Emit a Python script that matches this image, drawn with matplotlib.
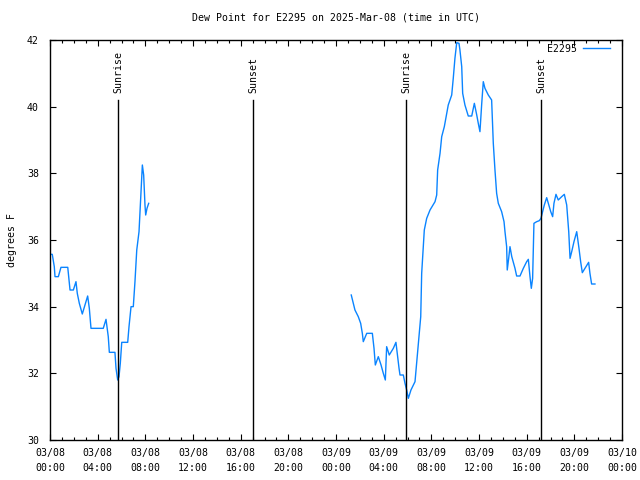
import matplotlib
matplotlib.use('Agg')
import matplotlib.pyplot as plt
import numpy as np

# Data (hours since 2025-03-08 00:00 UTC, dew point in F) ==========================
hours_a = [0.00, 0.19, 0.36, 0.42, 0.70, 0.92, 1.49, 1.68, 1.96, 2.18, 2.29, 2.46,
           2.71, 3.16, 3.30, 3.44, 4.47, 4.70, 4.89, 4.98, 5.45, 5.54, 5.68, 5.79,
           5.90, 6.02, 6.52, 6.63, 6.80, 6.99, 7.13, 7.28, 7.47, 7.70, 7.75, 7.86,
           7.97, 8.03, 8.14, 8.28]
dew_a = [35.57, 35.57, 35.2, 34.9, 34.9, 35.18, 35.18, 34.5, 34.5, 34.75, 34.4, 34.1,
         33.78, 34.32, 33.95, 33.35, 33.35, 33.62, 33.1, 32.63, 32.63, 32.15, 31.8, 31.9,
         32.3, 32.93, 32.93, 33.4, 34.0, 34.0, 34.75, 35.7, 36.25, 37.9, 38.25, 37.95,
         37.05, 36.75, 36.95, 37.1]

hours_b = [25.28, 25.45, 25.59, 25.87, 26.07, 26.21, 26.29, 26.58, 27.05, 27.19, 27.30,
           27.55, 27.78, 27.97, 28.14, 28.25, 28.47, 28.81, 29.03, 29.29, 29.37, 29.65,
           29.79, 29.93, 30.07, 30.29, 30.63, 30.91, 31.11, 31.19, 31.33, 31.41, 31.61,
           31.89, 32.31, 32.45, 32.53, 32.73, 32.87, 33.09, 33.29, 33.42, 33.71, 33.84,
           33.98, 34.13, 34.32, 34.40, 34.55, 34.63, 34.82, 35.10, 35.39, 35.52, 35.61,
           35.81, 35.94, 36.08, 36.23, 36.36, 36.50, 36.78, 37.06, 37.20, 37.34, 37.48,
           37.62, 37.90, 38.10, 38.18, 38.32, 38.37, 38.49, 38.60, 38.75, 39.02, 39.16,
           39.44, 39.72, 40.00, 40.14, 40.28, 40.39, 40.50, 40.61, 40.84, 41.06, 41.20,
           41.34, 41.48, 41.68, 41.82, 42.02, 42.18, 42.29, 42.46, 42.65, 42.94, 43.16,
           43.36, 43.53, 43.64, 43.78, 43.97, 44.20, 44.39, 44.53, 44.67, 44.98, 45.20,
           45.31, 45.45, 45.73]
dew_b = [34.35, 34.1, 33.9, 33.7, 33.5, 33.2, 32.95, 33.2, 33.2, 32.75, 32.25,
         32.5, 32.25, 32.0, 31.8, 32.8, 32.55, 32.75, 32.93, 32.15, 31.95, 31.95,
         31.7, 31.5, 31.25, 31.5, 31.75, 32.9, 33.7, 35.0, 35.8, 36.3, 36.65,
         36.9, 37.15, 37.35, 38.1, 38.6, 39.1, 39.4, 39.8, 40.05, 40.35, 40.85,
         41.45, 41.92, 41.9, 41.7, 41.2, 40.4, 40.05, 39.72, 39.72, 39.95, 40.1,
         39.75, 39.5, 39.25, 40.1, 40.75, 40.55, 40.35, 40.2, 38.9, 38.1, 37.4,
         37.1, 36.85, 36.55, 36.25, 35.8, 35.1, 35.45, 35.8, 35.5, 35.15, 34.92,
         34.92, 35.15, 35.35, 35.42, 34.9, 34.55, 34.85, 36.5, 36.55, 36.58, 36.65,
         36.85, 37.05, 37.27, 37.1, 36.85, 36.7, 37.1, 37.37, 37.2, 37.3, 37.37,
         37.05, 36.25, 35.45, 35.65, 35.95, 36.25, 35.75, 35.35, 35.02, 35.2, 35.33,
         35.0, 34.68, 34.68]

event_hours = [5.71, 17.03, 29.87, 41.20]
event_names = ['Sunrise', 'Sunset', 'Sunrise', 'Sunset']

xtick_hours = list(range(0, 49, 4))
xtick_labels = ['03/08\n00:00', '03/08\n04:00', '03/08\n08:00', '03/08\n12:00',
                '03/08\n16:00', '03/08\n20:00', '03/09\n00:00', '03/09\n04:00',
                '03/09\n08:00', '03/09\n12:00', '03/09\n16:00', '03/09\n20:00',
                '03/10\n00:00']
ytick_vals = [30, 32, 34, 36, 38, 40, 42]
station = 'E2295'
#===================================================================================

plt.rcParams['font.family'] = ['DejaVu Sans Mono']
FS = 7.15

fig = plt.figure(figsize=(6.4, 4.8), dpi=100)
ax = fig.add_axes([50/640, 40/480, 572/640, 400/480])

# join the two segments with a gap
x = hours_a + [np.nan] + hours_b
y = dew_a + [np.nan] + dew_b
ax.plot(x, y, color='#0a84ff', linewidth=1.0, label=station)

# sunrise / sunset markers
for h, name in zip(event_hours, event_names):
    ax.plot([h, h], [30, 40.2], color='black', linewidth=1.0)
    ax.text(h, 40.42, name, rotation=90, ha='center', va='bottom', fontsize=FS)

ax.set_xlim(0, 48)
ax.set_ylim(30, 42)
ax.set_xticks(xtick_hours)
ax.set_xticklabels(xtick_labels, fontsize=FS, linespacing=1.6)
ax.set_xticks(range(0, 49), minor=True)
ax.set_yticks(ytick_vals)
ax.set_yticklabels([str(v) for v in ytick_vals], fontsize=FS)
ax.tick_params(which='both', direction='in', top=True, right=True)
ax.tick_params(which='major', length=4.5, width=0.8)
ax.tick_params(which='minor', length=2.5, width=0.8)
ax.tick_params(axis='x', pad=6)
ax.tick_params(axis='y', pad=8)

for s in ax.spines.values():
    s.set_linewidth(1.0)

ax.set_ylabel('degrees F', fontsize=FS, labelpad=7)
ax.set_title('Dew Point for E2295 on 2025-Mar-08 (time in UTC)', fontsize=FS, pad=14)

leg = ax.legend(loc='upper right', bbox_to_anchor=(0.986, 1.0), frameon=False,
                fontsize=FS, handlelength=2.7, handletextpad=0.6, markerfirst=False,
                borderaxespad=0.0)

plt.savefig('out.png', dpi=100)
